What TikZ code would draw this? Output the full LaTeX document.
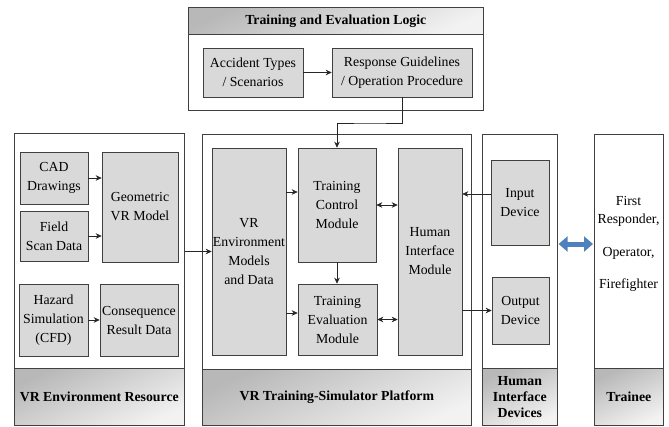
\documentclass[tikz,border=0pt]{standalone}
\usepackage{fontspec}
\setmainfont{Liberation Serif}
\usetikzlibrary{arrows, arrows.meta}
\usetikzlibrary{positioning}

\definecolor{arrowblue}{RGB}{79,129,189}

\begin{document}
\begin{tikzpicture}[
	x = 1pt, y = -1pt, % pixel grid, y grows downwards
	> = {Stealth[length=6pt, width=5.5pt]}, % arrow head style
	semithick, % line style
	panel/.style = {draw = black!75, fill = white, anchor = north west, inner sep = 0pt},
	bar/.style = {draw = black!75, top color = black!28, bottom color = black!5, shading angle = 25,
		anchor = north west, inner sep = 0pt, align = center,
		font = \fontsize{13.8}{16}\selectfont\bfseries},
	block/.style = {draw = black!75, fill = black!15, align = center, inner sep = 0pt,
		font = \fontsize{13.8}{19}\selectfont},
	link/.style = {->, black!85},
	exchange/.style = {{Triangle[width=15pt,length=9pt]}-{Triangle[width=15pt,length=9pt]},
		line width = 5pt, draw = arrowblue}
	]
	
	\useasboundingbox (0,0) rectangle (669,426);
	
	% panels and their title bars
	\node[panel, minimum width=295pt, minimum height=103pt] (logic) at (188,7) {};
	\node[bar, minimum width=295pt, minimum height=27pt] (logictitle) at (188,7) {Training and Evaluation Logic};
	
	\node[panel, minimum width=170pt, minimum height=292pt] (envres) at (14,133) {};
	\node[bar, minimum width=170pt, minimum height=57pt] (envrestitle) at (14,368) {VR Environment Resource};
	
	\node[panel, minimum width=269pt, minimum height=291pt] (platform) at (202,134) {};
	\node[bar, minimum width=269pt, minimum height=56pt] (platformtitle) at (202,369) {VR Training-Simulator Platform};
	
	\node[panel, minimum width=75pt, minimum height=291pt] (devices) at (482,134) {};
	\node[bar, minimum width=75pt, minimum height=57pt] (devicestitle) at (482,368) {Human\\Interface\\Devices};
	
	\node[panel, minimum width=69pt, minimum height=291pt] (trainee) at (594,134) {};
	\node[bar, minimum width=69pt, minimum height=57pt] (traineetitle) at (594,368) {Trainee};
	
	% training and evaluation logic
	\node[block, minimum width=100pt, minimum height=49pt] (accident) at (253,72.5) {Accident Types\\/ Scenarios};
	\node[block, minimum width=140pt, minimum height=49pt] (response) at (402,72.5) {Response Guidelines\\/ Operation Procedure};
	
	% VR environment resource
	\node[block, minimum width=68pt, minimum height=52pt] (cad) at (54,178) {CAD\\Drawings};
	\node[block, minimum width=68pt, minimum height=50pt] (scan) at (54,236) {Field\\Scan Data};
	\node[block, minimum width=76pt, minimum height=110pt] (geo) at (140,207) {Geometric\\VR Model};
	\node[block, minimum width=69pt, minimum height=72pt] (hazard) at (53.5,320) {Hazard\\Simulation\\(CFD)};
	\node[block, minimum width=78pt, minimum height=72pt] (result) at (139,320) {Consequence\\Result Data};
	
	% simulator platform
	\node[block, minimum width=74pt, minimum height=207pt] (vrenv) at (249,251.5) {VR\\Environment\\Models\\and Data};
	\node[block, minimum width=78pt, minimum height=114pt] (tcm) at (337,205) {Training\\Control\\Module};
	\node[block, minimum width=79pt, minimum height=71pt] (tem) at (337.5,319.5) {Training\\Evaluation\\Module};
	\node[block, minimum width=64pt, minimum height=207pt] (him) at (430,251.5) {Human\\Interface\\Module};
	
	% devices
	\node[block, minimum width=58pt, minimum height=85pt] (input) at (520,202.5) {Input\\Device};
	\node[block, minimum width=57pt, minimum height=67pt] (output) at (520.5,310.5) {Output\\Device};
	
	% trainee roles
	\node[align=center, font=\fontsize{13.8}{18}\selectfont] (roles) at (628.5,244)
		{First\\Responder,\\[15pt]Operator,\\[14pt]Firefighter};
	
	% connectors
	\coordinate (turn) at (370,123);
	\coordinate (tcmin) at ([yshift=13pt]tcm.west);
	\coordinate (temin) at ([yshift=6.5pt]tem.west);
	\coordinate (himin) at ([yshift=8.5pt]input.west);
	
	\draw[link] (accident) -- (response);
	\draw[link] (response.south) |- (turn) -| (tcm.north);
	
	\draw[link] (cad) -- (cad -| geo.west);
	\draw[link] (scan) -- (scan -| geo.west);
	\draw[link] (hazard) -- (hazard -| result.west);
	
	\draw[link] (envres.east |- vrenv) -- (vrenv);
	\draw[link] (tcmin -| vrenv.east) -- (tcmin);
	\draw[link] (temin -| vrenv.east) -- (temin);
	\draw[link] (tcm.south) -- (tcm.south |- tem.north);
	\draw[<->, black!85] (tcm) -- (tcm -| him.west);
	\draw[<->, black!85] (tem) -- (tem -| him.west);
	
	\draw[link] (himin) -- (himin -| him.east);
	\draw[link] (output -| him.east) -- (output);
	
	\draw[exchange, shorten <=1pt, shorten >=1pt] (devices.east |- roles) -- (trainee.west |- roles);
	
\end{tikzpicture}
\end{document}
